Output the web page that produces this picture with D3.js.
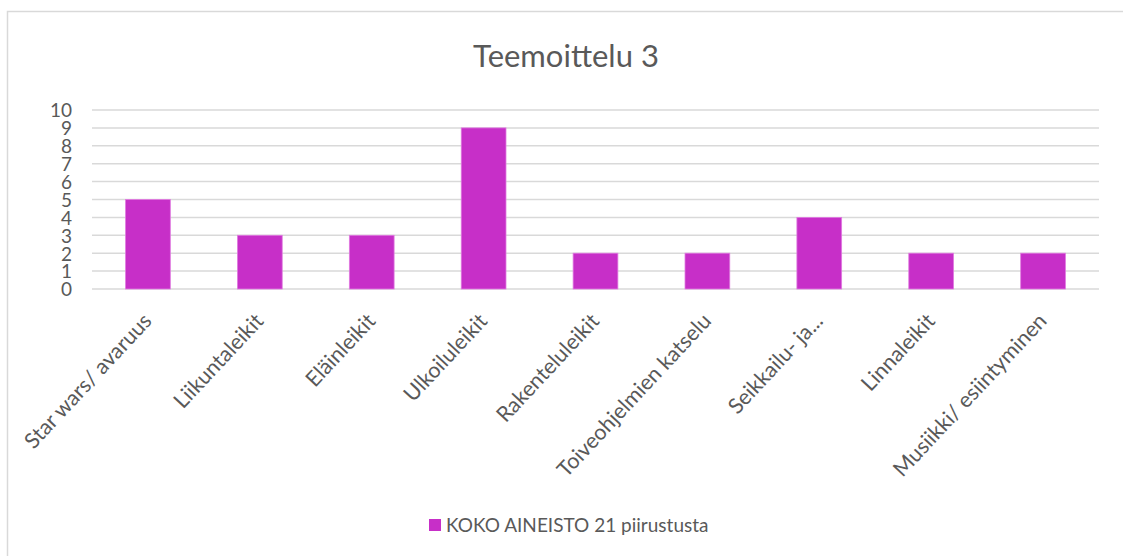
<!DOCTYPE html>
<html>
<head>
<meta charset="utf-8">
<script src="https://cdn.jsdelivr.net/npm/d3@7"></script>
<style>
  body { margin: 0; background: #fff; }
  svg { display: block; font-family: Lato, "Open Sans", sans-serif; }
</style>
</head>
<body>
<div id="vis"></div>
<script>
// chart data
const categories = ["Star wars/ avaruus", "Liikuntaleikit", "Eläinleikit", "Ulkoiluleikit",
  "Rakenteluleikit", "Toiveohjelmien katselu", "Seikkailu- ja...", "Linnaleikit", "Musiikki/ esiintyminen"];
const values = [5, 3, 3, 9, 2, 2, 4, 2, 2];
const yTicks = [0, 1, 2, 3, 4, 5, 6, 7, 8, 9, 10];
const seriesName = "KOKO AINEISTO 21 piirustusta";
const chartTitle = "Teemoittelu 3";

var width = 1123;
var height = 556;
var margin = { top: 110, right: 24, bottom: 267, left: 92 };
var fontFamily = 'Lato, "Open Sans", sans-serif';
var barColor = '#c72fc8';
var textColor = '#595959';
var gridColor = '#d9d9d9';

var svg = d3.select('#vis')
  .append('svg')
  .attr('width', width)
  .attr('height', height);

// outer chart border (right/bottom run off the picture)
svg.append('rect')
  .attr('x', 7.5).attr('y', 11.5)
  .attr('width', width + 20).attr('height', height + 20)
  .attr('fill', 'none')
  .attr('stroke', gridColor)
  .attr('stroke-width', 1.5);

var x = d3.scaleBand()
  .domain(categories)
  .range([margin.left, width - margin.right])
  .paddingInner(0.6)
  .paddingOuter(0.3);

var y = d3.scaleLinear()
  .domain([0, 10])
  .range([height - margin.bottom, margin.top]);

// gridlines
svg.append('g')
  .selectAll('line')
  .data(yTicks)
  .enter().append('line')
  .attr('x1', margin.left)
  .attr('x2', width - margin.right)
  .attr('y1', function (d) { return y(d); })
  .attr('y2', function (d) { return y(d); })
  .attr('stroke', gridColor)
  .attr('stroke-width', 1.5);

// y axis labels
var yAxis = d3.axisLeft(y).tickValues(yTicks).tickSize(0).tickPadding(0);
var yg = svg.append('g')
  .attr('transform', 'translate(' + (margin.left - 20) + ',0)')
  .call(yAxis);
yg.attr('font-family', fontFamily);
yg.select('.domain').remove();
yg.selectAll('text')
  .attr('fill', textColor)
  .style('font-size', '19px')
  .attr('dy', '0.36em');

// bars
svg.append('g')
  .selectAll('rect')
  .data(values)
  .enter().append('rect')
  .attr('x', function (d, i) { return x(categories[i]); })
  .attr('y', function (d) { return y(d); })
  .attr('width', x.bandwidth())
  .attr('height', function (d) { return y(0) - y(d); })
  .attr('fill', barColor)
  .attr('stroke', '#e07be0')
  .attr('stroke-width', 0.8);

// x axis labels, rotated
var xAxis = d3.axisBottom(x).tickSize(0).tickPadding(0);
var xg = svg.append('g')
  .attr('transform', 'translate(0,' + y(0) + ')')
  .call(xAxis);
xg.attr('font-family', fontFamily);
xg.select('.domain').remove();
xg.selectAll('text')
  .attr('fill', textColor)
  .style('font-size', '21.5px')
  .attr('text-anchor', 'end')
  .attr('dy', null)
  .attr('y', 0)
  .attr('transform', 'translate(5,33) rotate(-47)');

// title
svg.append('text')
  .attr('x', 566)
  .attr('y', 67)
  .attr('text-anchor', 'middle')
  .attr('fill', textColor)
  .style('font-size', '31px')
  .text(chartTitle);

// legend
var legend = svg.append('g').attr('transform', 'translate(429,519)');
legend.append('rect')
  .attr('width', 12).attr('height', 12)
  .attr('fill', barColor);
legend.append('text')
  .attr('x', 17).attr('y', 13)
  .attr('fill', textColor)
  .style('font-size', '19px')
  .text(seriesName);
</script>
</body>
</html>
